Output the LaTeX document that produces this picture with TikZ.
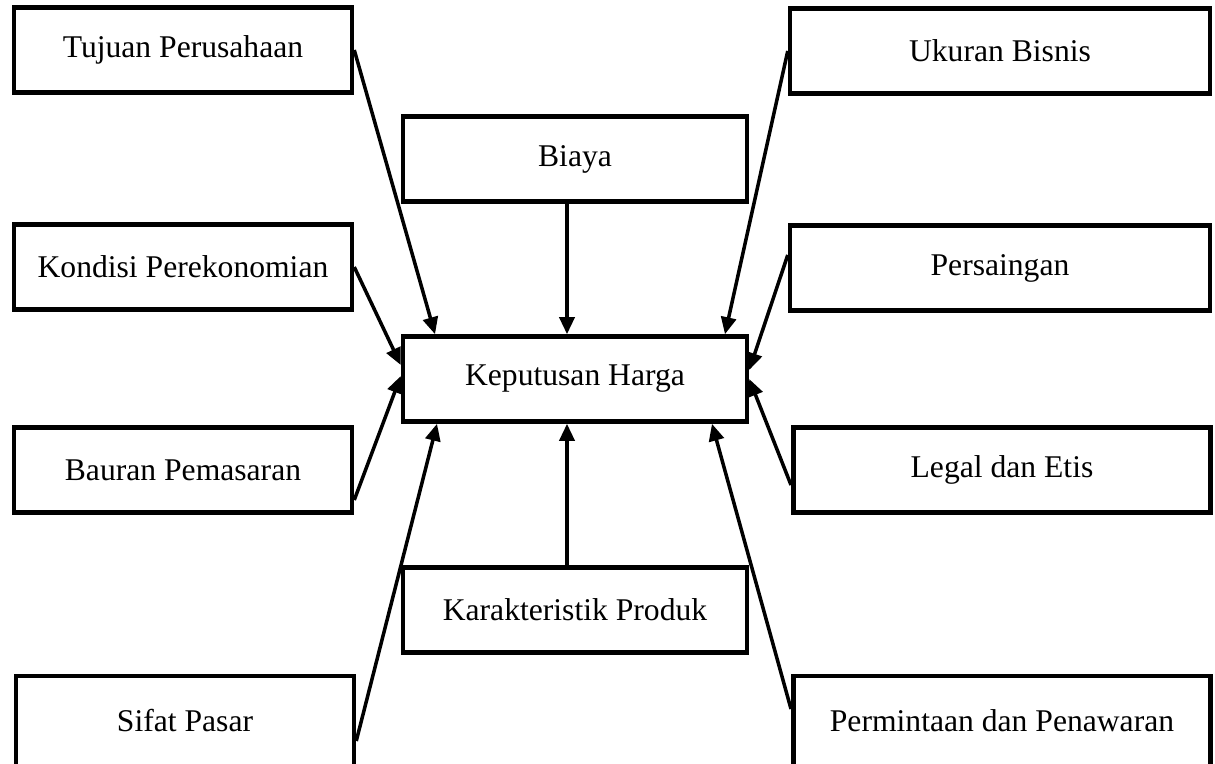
\documentclass[tikz,border=0pt]{standalone}
\usepackage{fontspec}
\setmainfont{Liberation Serif}
\usetikzlibrary{arrows.meta}

\begin{document}
\begin{tikzpicture}[x=0.02cm,y=-0.02cm,
  every node/.style={font=\fontsize{18}{21}\selectfont},
  factor/.style={draw,line width=2.6pt,minimum width=6.76cm,minimum height=1.7cm,inner sep=0pt},
  wide/.style={factor,minimum width=8.35cm},
  inf/.style={line width=2pt,-{Triangle[length=0.34cm,width=0.3cm]}}]
  \useasboundingbox (0,0) rectangle (1215,764);
  % left column
  \node[factor] (tujuan) at (183,50) {Tujuan Perusahaan};
  \node[factor] (kondisi) at (183,267) {Kondisi Perekonomian};
  \node[factor] (bauran) at (183,470) {Bauran Pemasaran};
  \node[factor,minimum height=1.8cm] (sifat) at (185,721) {Sifat Pasar};
  % middle column
  \node[factor,minimum width=6.88cm] (biaya) at (575,159) {Biaya};
  \node[factor,minimum width=6.88cm] (harga) at (575,379) {Keputusan Harga};
  \node[factor,minimum width=6.88cm] (produk) at (575,610) {Karakteristik Produk};
  % right column
  \node[factor,minimum width=8.4cm] (ukuran) at (1000,51) {Ukuran Bisnis};
  \node[factor,minimum width=8.4cm] (saing) at (1000,268) {Persaingan};
  \node[wide] (legal) at (1002,470) {Legal dan Etis};
  \node[wide,minimum height=1.8cm] (minta) at (1002,721) {Permintaan dan Penawaran};
  % influences
  \draw[inf] (tujuan.east) -- ([xshift=-2.8cm]harga.north);
  \draw[inf] ([xshift=-0.16cm]biaya.south) -- ([xshift=-0.16cm]harga.north);
  \draw[inf] (ukuran.west) -- ([xshift=3.0cm]harga.north);
  \draw[inf] (kondisi.east) -- ([yshift=0.28cm]harga.west);
  \draw[inf] ([yshift=0.26cm]saing.west) -- ([yshift=0.18cm]harga.east);
  \draw[inf] ([yshift=-0.6cm]bauran.east) -- ([yshift=0.06cm]harga.west);
  \draw[inf] ([yshift=-0.3cm]legal.west) -- (harga.east);
  \draw[inf] ([yshift=-0.4cm]sifat.east) -- ([xshift=-2.76cm]harga.south);
  \draw[inf] ([xshift=-0.16cm]produk.north) -- ([xshift=-0.16cm]harga.south);
  \draw[inf] ([yshift=0.24cm]minta.west) -- ([xshift=2.74cm]harga.south);
\end{tikzpicture}
\end{document}
